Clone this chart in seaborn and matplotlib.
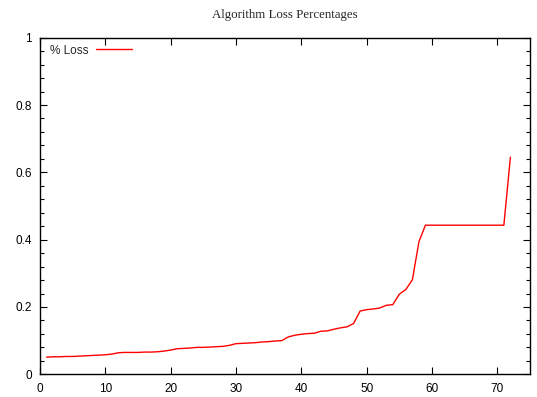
import matplotlib
matplotlib.use("Agg")
import matplotlib.pyplot as plt
import seaborn as sns
import pandas as pd
from matplotlib.ticker import MultipleLocator, FixedLocator

x_values = list(range(1, 73))
loss_values = [
    0.051, 0.052, 0.052, 0.053, 0.053, 0.054, 0.055, 0.056, 0.057, 0.058,
    0.060, 0.064, 0.065, 0.065, 0.065, 0.066, 0.066, 0.067, 0.069, 0.072,
    0.076, 0.077, 0.078, 0.080, 0.080, 0.081, 0.082, 0.083, 0.086, 0.091,
    0.092, 0.093, 0.094, 0.096, 0.097, 0.099, 0.100, 0.111, 0.116, 0.119,
    0.121, 0.122, 0.128, 0.129, 0.134, 0.138, 0.141, 0.151, 0.188, 0.192,
    0.194, 0.197, 0.205, 0.207, 0.238, 0.252, 0.281, 0.394, 0.443, 0.443,
    0.443, 0.443, 0.443, 0.443, 0.443, 0.443, 0.443, 0.443, 0.443, 0.443,
    0.443, 0.645,
]
x_ticks = [0, 10, 20, 30, 40, 50, 60, 70]
y_ticks = [0, 0.2, 0.4, 0.6, 0.8, 1]
y_tick_labels = ["0", "0.2", "0.4", "0.6", "0.8", "1"]
series_label = "% Loss"
title = "Algorithm Loss Percentages"

sns.set_style("ticks")
plt.rcParams['font.family'] = ['Liberation Sans', 'DejaVu Sans']

df = pd.DataFrame({"x": x_values, "loss": loss_values, "series": series_label})

fig = plt.figure(figsize=(5.37, 3.97), dpi=100)
ax = fig.add_axes([40 / 537, 22.7 / 397, 490 / 537, (374.3 - 37.7) / 397])

sns.lineplot(data=df, x="x", y="loss", hue="series", palette=["#ff0000"],
             linewidth=1.0, ax=ax)

ax.set_xlim(0, 75)
ax.set_ylim(0, 1)
ax.xaxis.set_major_locator(FixedLocator(x_ticks))
ax.yaxis.set_major_locator(FixedLocator(y_ticks))
ax.set_yticklabels(y_tick_labels)
ax.yaxis.set_minor_locator(MultipleLocator(0.04))
ax.set_xlabel("")
ax.set_ylabel("")

for s in ax.spines.values():
    s.set_visible(True)
    s.set_linewidth(1.0)
    s.set_color("black")

ax.tick_params(axis="both", which="both", direction="in", top=True, right=True,
               labelsize=8.5, colors="black", width=0.8)
ax.tick_params(axis="both", which="major", length=5, pad=6)
ax.tick_params(axis="y", which="minor", length=3)
ax.tick_params(axis="x", which="minor", length=0)

fig.text(285 / 537, 1 - 15 / 397, title, ha="center", va="center",
         family=["Liberation Serif", "DejaVu Serif"], fontsize=9.3)

leg = ax.legend(loc="upper left", frameon=False, markerfirst=False,
                fontsize=8.5, handlelength=3.1, handletextpad=0.6,
                borderaxespad=0.3, bbox_to_anchor=(0.004, 1.004))

fig.savefig("out.png", dpi=100)
